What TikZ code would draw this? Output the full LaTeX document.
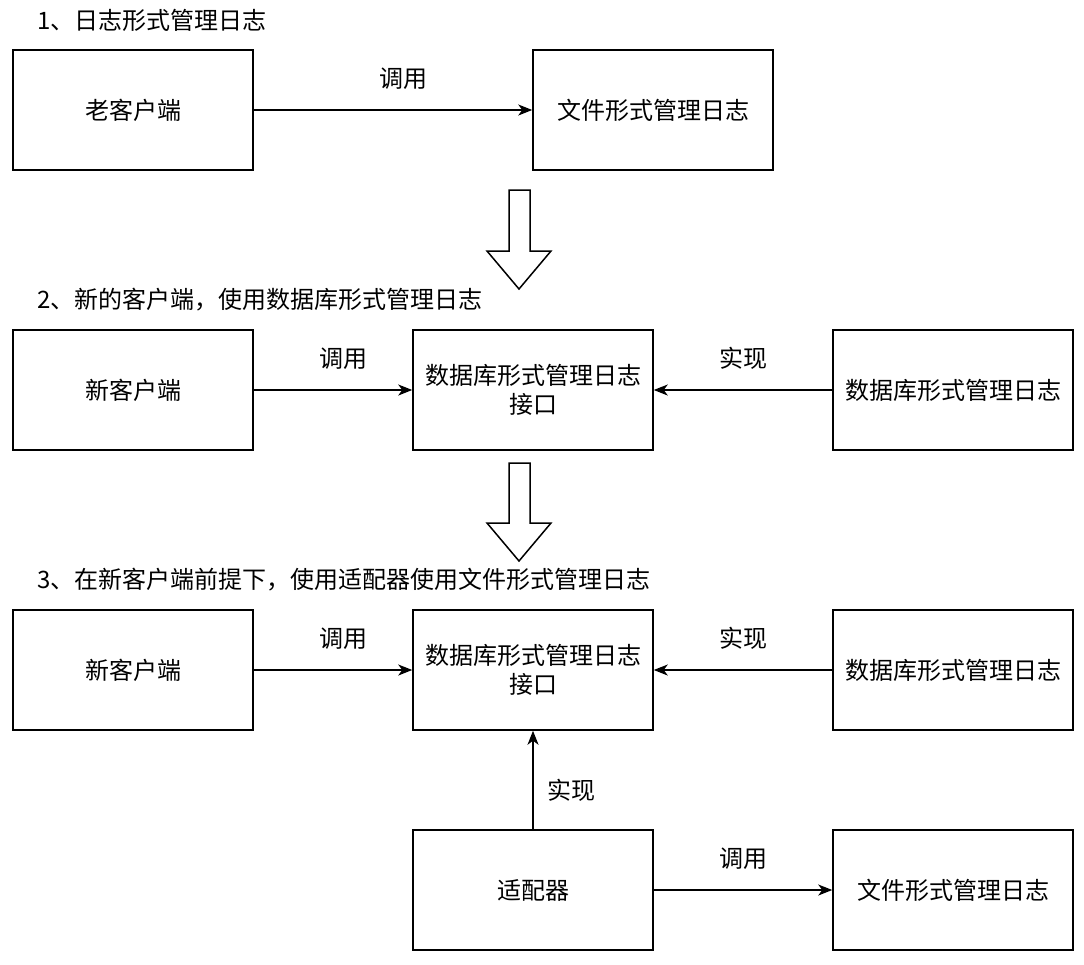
\documentclass[tikz,border=0pt]{standalone}
\usepackage{fontspec}
\setmainfont{Noto Sans CJK SC}
\usetikzlibrary{arrows.meta}
\begin{document}
\begin{tikzpicture}[x=1pt,y=-1pt,
  box/.style={draw,line width=1.5pt,minimum width=240pt,minimum height=120pt,align=center,inner sep=0pt,font=\fontsize{24}{29}\selectfont},
  lbl/.style={font=\fontsize{24}{28}\selectfont,inner sep=0pt},
  ttl/.style={font=\fontsize{24}{28}\selectfont,inner sep=0pt,anchor=west},
  conn/.style={line width=1.5pt,-{Stealth[length=14pt,width=11pt,inset=4pt]}},
  blk/.style={draw,line width=1.5pt,fill=white,line join=miter}]
\useasboundingbox (0,0) rectangle (1084,964);
% titles
\node[ttl] (t1) at (37,20) {1、日志形式管理日志};
\node[ttl] (t2) at (37,300) {2、新的客户端，使用数据库形式管理日志};
\node[ttl] (t3) at (37,580) {3、在新客户端前提下，使用适配器使用文件形式管理日志};
% row 1
\node[box] (old) at (133,110) {老客户端};
\node[box] (file1) at (653,110) {文件形式管理日志};
\draw[conn] (old) -- (file1) node[lbl,midway,above=20pt,xshift=10pt] {调用};
% block arrow 1
\draw[blk] (509,190) -- (530,190) -- (530,251) -- (551,251) -- (519,289) -- (487,251) -- (509,251) -- cycle;
% row 2
\node[box] (new2) at (133,390) {新客户端};
\node[box] (if2) at (533,390) {数据库形式管理日志\\接口};
\node[box] (db2) at (953,390) {数据库形式管理日志};
\draw[conn] (new2) -- (if2) node[lbl,midway,above=20pt,xshift=10pt] {调用};
\draw[conn] (db2) -- (if2) node[lbl,midway,above=20pt] {实现};
% block arrow 2
\draw[blk] (509,463) -- (530,463) -- (530,523) -- (551,523) -- (519,561) -- (487,523) -- (509,523) -- cycle;
% row 3
\node[box] (new3) at (133,670) {新客户端};
\node[box] (if3) at (533,670) {数据库形式管理日志\\接口};
\node[box] (db3) at (953,670) {数据库形式管理日志};
\draw[conn] (new3) -- (if3) node[lbl,midway,above=20pt,xshift=10pt] {调用};
\draw[conn] (db3) -- (if3) node[lbl,midway,above=20pt] {实现};
\node[box] (ad) at (533,890) {适配器};
\node[box] (file3) at (953,890) {文件形式管理日志};
\draw[conn] (ad) -- (if3) node[lbl,pos=0.4,right=14pt] {实现};
\draw[conn] (ad) -- (file3) node[lbl,midway,above=20pt] {调用};
\end{tikzpicture}
\end{document}
